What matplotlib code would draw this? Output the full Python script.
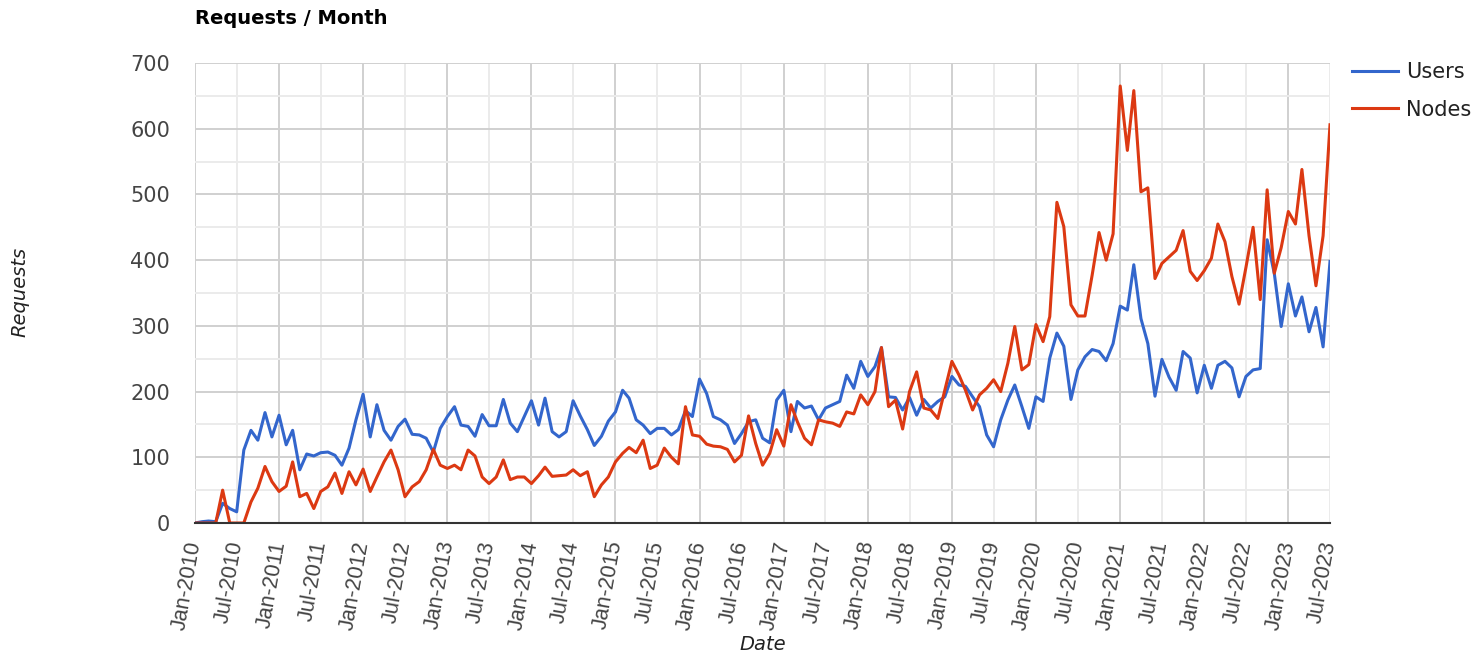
import pandas as pd
import matplotlib
matplotlib.use("Agg")
import matplotlib.pyplot as plt
import matplotlib.dates as mdates
from matplotlib.ticker import MultipleLocator

plt.rcParams['font.family'] = ['DejaVu Sans']

# monthly requests, Jan-2010 .. Jul-2023
users = [
    0, 2, 3, 2, 30, 22, 17, 111, 141, 126,
    168, 131, 164, 119, 141, 81, 105, 102, 107, 108,
    103, 88, 114, 157, 196, 131, 180, 141, 126, 147,
    158, 135, 134, 129, 108, 144, 162, 177, 149, 147,
    132, 165, 148, 148, 188, 152, 139, 162, 186, 149,
    190, 139, 131, 139, 186, 163, 142, 118, 132, 155,
    169, 202, 190, 157, 149, 136, 144, 144, 134, 142,
    171, 162, 219, 197, 162, 157, 149, 121, 136, 154,
    157, 129, 122, 187, 202, 139, 185, 175, 178, 157,
    175, 180, 185, 225, 205, 246, 223, 238, 267, 192,
    191, 172, 191, 164, 188, 175, 185, 192, 223, 210,
    208, 192, 177, 134, 116, 157, 187, 210, 177, 144,
    192, 185, 251, 289, 269, 188, 233, 253, 264, 261,
    247, 273, 330, 324, 393, 311, 273, 193, 249, 222,
    202, 261, 251, 198, 240, 205, 240, 246, 236, 192,
    223, 233, 235, 431, 380, 299, 364, 315, 344, 291,
    328, 268, 398,
]
nodes = [
    0, 0, 0, 0, 50, 0, 0, 0, 32, 53,
    86, 63, 48, 56, 93, 40, 45, 22, 48, 55,
    76, 45, 78, 58, 82, 48, 70, 93, 111, 81,
    40, 55, 63, 81, 112, 88, 83, 88, 81, 111,
    102, 70, 60, 70, 96, 66, 70, 70, 60, 72,
    85, 71, 72, 73, 81, 72, 78, 40, 58, 70,
    93, 106, 115, 107, 126, 83, 88, 114, 100, 90,
    177, 134, 132, 120, 117, 116, 112, 93, 103, 163,
    121, 88, 106, 142, 117, 180, 154, 129, 119, 157,
    154, 152, 147, 169, 166, 195, 180, 200, 267, 177,
    187, 143, 200, 230, 175, 172, 159, 202, 246, 225,
    202, 172, 195, 205, 218, 200, 243, 299, 233, 241,
    302, 276, 314, 488, 451, 332, 315, 315, 377, 442,
    400, 440, 665, 567, 658, 504, 510, 372, 395, 405,
    415, 445, 383, 369, 384, 403, 455, 428, 375, 333,
    389, 450, 340, 507, 380, 419, 474, 455, 538, 437,
    361, 437, 606,
]
dates = pd.date_range('2010-01-01', periods=len(users), freq='MS')

W, H = 1483, 654
fig = plt.figure(figsize=(W / 100, H / 100), dpi=100)
ax = fig.add_axes([195 / W, 1 - 523 / H, (1330 - 195) / W, (523 - 63) / H])

ax.plot(dates, users, color='#3366cc', lw=2.2, label='Users')
ax.plot(dates, nodes, color='#dc3912', lw=2.2, label='Nodes')

ax.set_xlim(dates[0], dates[-1])
ax.set_ylim(0, 700)

ax.xaxis.set_major_locator(mdates.MonthLocator(bymonth=[1, 7]))
ax.xaxis.set_major_formatter(mdates.DateFormatter('%b-%Y'))
ax.yaxis.set_major_locator(MultipleLocator(100))

# grid: darker lines at Jan / hundreds, lighter at Jul / fifties
for d in dates:
    if d.month == 1:
        ax.axvline(d, color='#d0d0d0', lw=1.4, zorder=0)
    elif d.month == 7:
        ax.axvline(d, color='#ebebeb', lw=1.4, zorder=0)
for v in range(100, 701, 100):
    ax.axhline(v, color='#d0d0d0', lw=1.4, zorder=0)
for v in range(50, 700, 100):
    ax.axhline(v, color='#ebebeb', lw=1.4, zorder=0)

for s in ['top', 'right', 'left']:
    ax.spines[s].set_visible(False)
ax.spines['bottom'].set_color('#333333')
ax.spines['bottom'].set_linewidth(1.5)

ax.tick_params(axis='both', which='both', length=0, labelsize=15, colors='#444444')
ax.tick_params(axis='y', pad=18)
ax.tick_params(axis='x', pad=13)
for lbl in ax.get_xticklabels():
    lbl.set_rotation(80)
    lbl.set_ha('right')
    lbl.set_va('center')
    lbl.set_rotation_mode('anchor')
    lbl.set_family(['Liberation Sans', 'DejaVu Sans'])
    lbl.set_fontsize(15.5)

leg = fig.legend(loc='upper left', bbox_to_anchor=(1352 / W, 1 - 62 / H),
                 frameon=False, fontsize=15, handlelength=2.2, handletextpad=0.4,
                 labelspacing=0.85, borderpad=0, borderaxespad=0)
for t in leg.get_texts():
    t.set_color('#222222')

fig.text(195 / W, 1 - 18 / H, 'Requests / Month', fontsize=14, fontweight='bold',
         va='center', ha='left', color='black')
fig.text(20 / W, 1 - 292 / H, 'Requests', fontsize=14, style='italic', rotation=90,
         va='center', ha='center', color='#222222')
fig.text(763 / W, 1 - 645 / H, 'Date', fontsize=14, style='italic',
         va='center', ha='center', color='#222222')

fig.savefig('out.png', dpi=100)
